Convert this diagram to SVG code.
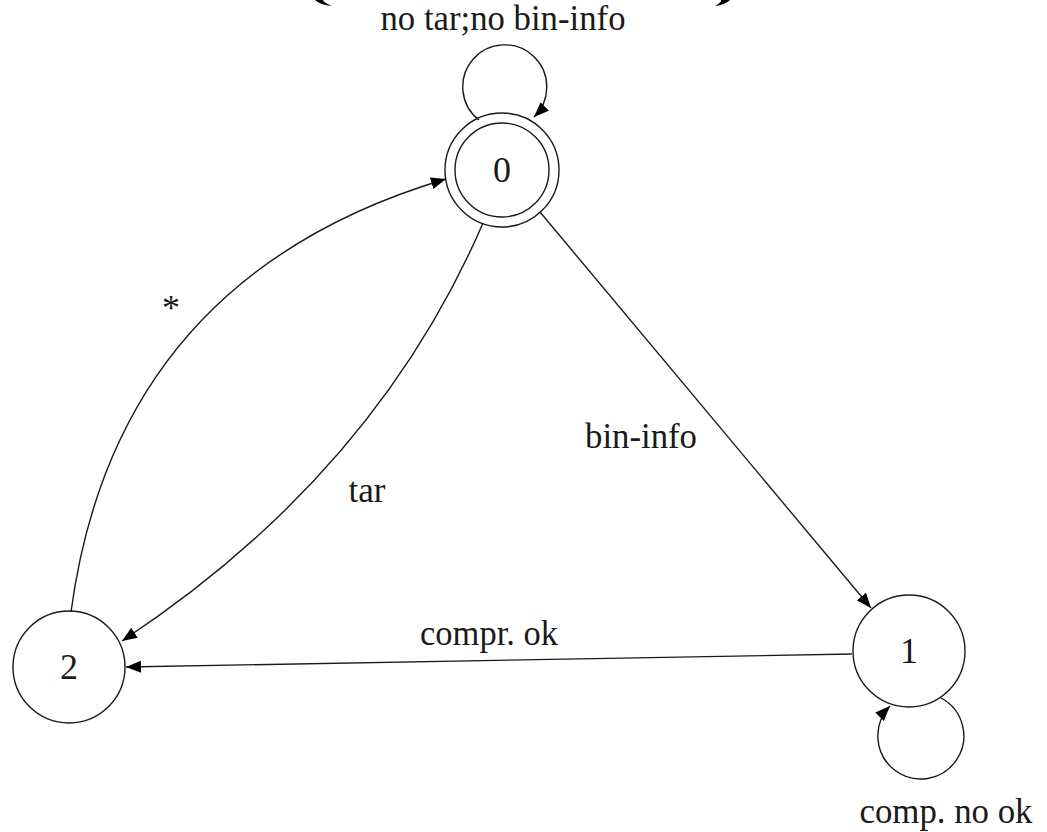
<svg xmlns="http://www.w3.org/2000/svg" width="1047" height="832" viewBox="0 0 1047 832">
<style>
.st{fill:none;stroke:#1a1a1a;stroke-width:1.4}
.lbl{font-family:"Liberation Serif","Times New Roman",serif;font-size:36px;fill:#1a1a1a;text-anchor:middle}
.edge{fill:none;stroke:#1a1a1a;stroke-width:1.4;marker-end:url(#arr)}
</style>
<defs>
<marker id="arr" markerUnits="userSpaceOnUse" markerWidth="16" markerHeight="12" refX="15" refY="6" orient="auto">
<path d="M0,0 L15,6 L0,12 Z" fill="#000"/>
</marker>
</defs>
<rect width="1047" height="832" fill="#fff"/>
<g id="fragments" fill="#000">
<path d="M315,0 Q320,5 332,6 Q323,2 323,0 Z"/>
<path d="M730,0 Q725,5 715,6 Q722,2 721,0 Z"/>
</g>
<g id="connectors">
<path id="e00" class="edge" d="M479,120 A42 42 0 1 1 534,117"/>
<path id="e01" class="edge" d="M540,212 L871,608"/>
<path id="e02" class="edge" d="M483,223 Q375,474 122,641"/>
<path id="e20" class="edge" d="M71,612 Q116,277 446,179"/>
<path id="e12" class="edge" d="M852,654 L126,667"/>
<path id="e11" class="edge" d="M941,698 A43 43 0 1 1 890,706"/>
</g>
<g id="labels">
<text class="lbl" x="503" y="30" textLength="245" lengthAdjust="spacingAndGlyphs">no tar;no bin-info</text>
<text class="lbl" x="171" y="320">*</text>
<text class="lbl" x="367" y="502" textLength="37" lengthAdjust="spacingAndGlyphs">tar</text>
<text class="lbl" x="641" y="448" textLength="112" lengthAdjust="spacingAndGlyphs">bin-info</text>
<text class="lbl" x="489" y="645" textLength="138" lengthAdjust="spacingAndGlyphs">compr. ok</text>
<text class="lbl" x="946" y="823" textLength="173" lengthAdjust="spacingAndGlyphs">comp. no ok</text>
</g>
<g id="node0">
<circle class="st" cx="502" cy="170" r="57"/>
<circle class="st" cx="502" cy="170" r="47"/>
<text class="lbl" x="502" y="182">0</text>
</g>
<g id="node1">
<circle class="st" cx="909" cy="651" r="56"/>
<text class="lbl" x="909" y="663">1</text>
</g>
<g id="node2">
<circle class="st" cx="69" cy="667" r="56"/>
<text class="lbl" x="69" y="679">2</text>
</g>
</svg>
